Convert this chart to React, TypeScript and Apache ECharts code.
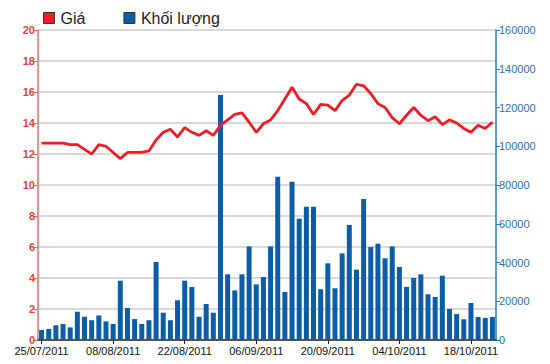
import React, { useEffect, useRef } from "react";
import * as echarts from "echarts";

const dates = [
  "25/07/2011", "26/07/2011", "27/07/2011", "28/07/2011", "29/07/2011",
  "01/08/2011", "02/08/2011", "03/08/2011", "04/08/2011", "05/08/2011",
  "08/08/2011", "09/08/2011", "10/08/2011", "11/08/2011", "12/08/2011",
  "15/08/2011", "16/08/2011", "17/08/2011", "18/08/2011", "19/08/2011",
  "22/08/2011", "23/08/2011", "24/08/2011", "25/08/2011", "26/08/2011",
  "29/08/2011", "30/08/2011", "31/08/2011", "01/09/2011", "05/09/2011",
  "06/09/2011", "07/09/2011", "08/09/2011", "09/09/2011", "12/09/2011",
  "13/09/2011", "14/09/2011", "15/09/2011", "16/09/2011", "19/09/2011",
  "20/09/2011", "21/09/2011", "22/09/2011", "23/09/2011", "26/09/2011",
  "27/09/2011", "28/09/2011", "29/09/2011", "30/09/2011", "03/10/2011",
  "04/10/2011", "05/10/2011", "06/10/2011", "07/10/2011", "10/10/2011",
  "11/10/2011", "12/10/2011", "13/10/2011", "14/10/2011", "17/10/2011",
  "18/10/2011", "19/10/2011", "20/10/2011", "21/10/2011",
];

const price = [
  12.7, 12.7, 12.7, 12.7, 12.6, 12.6, 12.3, 12.0, 12.6, 12.5,
  12.1, 11.7, 12.1, 12.1, 12.1, 12.2, 12.9, 13.4, 13.6, 13.1,
  13.7, 13.4, 13.2, 13.5, 13.2, 13.85, 14.2, 14.55, 14.65, 14.05,
  13.4, 13.95, 14.2, 14.8, 15.55, 16.3, 15.55, 15.25, 14.55, 15.2,
  15.15, 14.8, 15.45, 15.8, 16.5, 16.4, 15.9, 15.25, 15.0, 14.35,
  13.95, 14.5, 15.0, 14.5, 14.15, 14.4, 13.9, 14.2, 14.0, 13.65,
  13.4, 13.85, 13.65, 14.05,
];

const volume = [
  5200, 5700, 7600, 8300, 6500, 14600, 12000, 10200, 12700, 9600,
  8300, 30600, 16500, 10800, 8300, 10200, 40300, 14100, 10200, 20500,
  30600, 27400, 12000, 18600, 14100, 126400, 33900, 25600, 33900, 48300,
  28700, 32500, 48300, 84300, 24800, 81700, 62600, 68800, 68800, 26200,
  39600, 26700, 44700, 59400, 36300, 72800, 48000, 49700, 42200, 48300,
  37700, 27400, 32000, 33900, 23600, 22200, 33200, 16000, 13400, 10700,
  19100, 11900, 11400, 11900,
];

const leftTicks = { min: 0, max: 20, interval: 2 };
const rightTicks = { min: 0, max: 160000, interval: 20000 };

const FONT = "Liberation Sans";

export default function App() {
  const ref = useRef<HTMLDivElement>(null);
  useEffect(() => {
    if (!ref.current) return;
    const chart = echarts.init(ref.current, undefined, { renderer: "svg" });
    const red = "#ee1c25";
    const blue = "#0c5da6";
    chart.setOption({
      animation: false,
      backgroundColor: "#ffffff",
      textStyle: { fontFamily: FONT },
      legend: {
        left: 43,
        top: 10,
        padding: 0,
        itemWidth: 11,
        itemHeight: 11,
        itemGap: 38,
        icon: "rect",
        textStyle: { fontSize: 16, color: "#222", fontFamily: FONT, padding: [0, 0, 0, 1] },
        data: [
          { name: "Giá", itemStyle: { color: red, borderColor: "#333", borderWidth: 1 } },
          { name: "Khối lượng", itemStyle: { color: blue, borderColor: "#333", borderWidth: 1 } },
        ],
      },
      grid: { left: 38, right: 54, top: 30, bottom: 24, containLabel: false },
      xAxis: [
        {
          type: "category",
          data: dates,
          boundaryGap: true,
          axisLine: { lineStyle: { color: "#222", width: 1.5 } },
          axisTick: { show: true, interval: 9, alignWithLabel: true, length: 4, lineStyle: { color: "#222" } },
          axisLabel: { interval: 9, color: "#111", fontSize: 11, margin: 5, fontFamily: FONT },
          splitLine: { show: false },
        },
        {
          type: "category",
          data: dates,
          position: "top",
          axisLine: { show: true, lineStyle: { color: "#555", width: 1.5 } },
          axisTick: { show: false },
          axisLabel: { show: false },
        },
      ],
      yAxis: [
        {
          type: "value",
          position: "left",
          ...leftTicks,
          axisLine: { show: true, lineStyle: { color: "#f06a6a", width: 1.5 } },
          axisTick: { show: true, length: 5, lineStyle: { color: "#f06a6a" } },
          axisLabel: { color: "#e8403f", fontSize: 11, fontWeight: "bold", margin: 3, fontFamily: FONT },
          splitLine: { show: true, lineStyle: { color: "#cccccc", width: 1.5 } },
        },
        {
          type: "value",
          position: "right",
          ...rightTicks,
          axisLine: { show: true, lineStyle: { color: "#2a78b8", width: 1.5 } },
          axisTick: { show: true, length: 4, lineStyle: { color: "#2a78b8" } },
          axisLabel: {
            color: "#2f6fa8",
            fontSize: 11,
            margin: 3,
            fontFamily: FONT,
            formatter: (v: number) => String(v),
          },
          splitLine: { show: false },
        },
      ],
      series: [
        {
          name: "Khối lượng",
          type: "bar",
          yAxisIndex: 1,
          data: volume,
          barWidth: 5,
          itemStyle: { color: blue },
          z: 2,
        },
        {
          name: "Giá",
          type: "line",
          yAxisIndex: 0,
          data: price,
          symbol: "none",
          lineStyle: { color: red, width: 2.8 },
          itemStyle: { color: red },
          z: 3,
        },
      ],
    });
    return () => chart.dispose();
  }, []);
  return <div ref={ref} style={{ width: 550, height: 364, position: "absolute", left: 0, top: 0 }} />;
}
